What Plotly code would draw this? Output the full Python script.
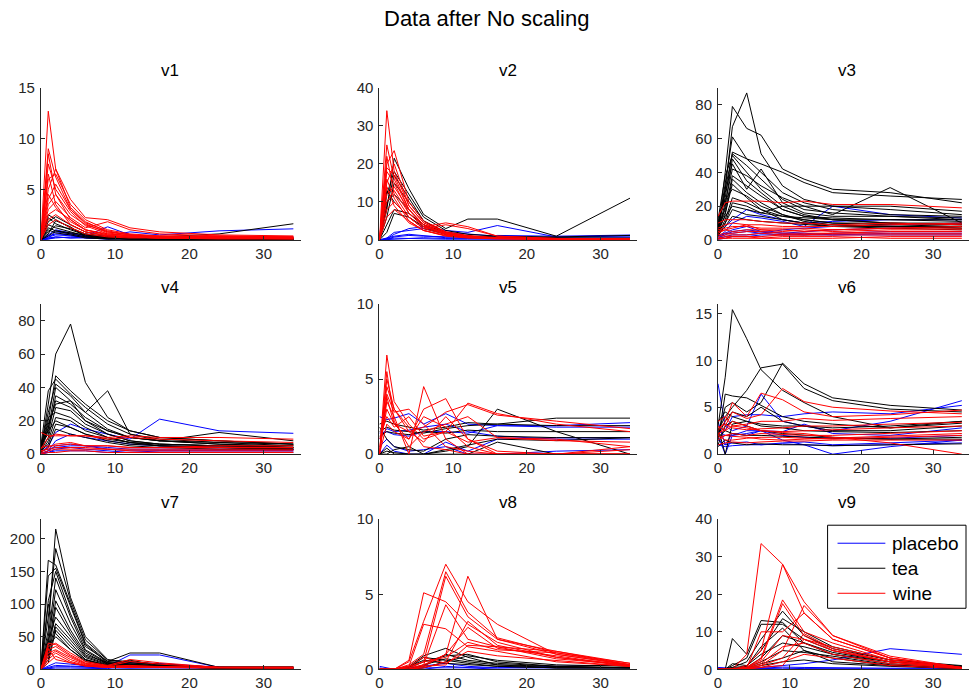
import plotly.graph_objects as go

# Sampling times (hours) shared by every subject
TIME = [0, 1, 2, 4, 6, 9, 12, 16, 24, 34]

# ---- v1 ----
V1_PLACEBO = [
    [0, 0.3, 0.5, 0.4, 0.3, 0.2, 0.1, 0.1, 0.1, 0.1],
    [0, 0.2, 0.8, 0.6, 0.4, 1.3, 0.5, 0.3, 0.2, 0.2],
    [0, 0.1, 0.3, 0.2, 0.3, 0.4, 0.8, 0.5, 0.9, 1.1],
    [0.1, 0.4, 0.6, 0.5, 0.2, 0.1, 0.1, 0.1, 0.2, 0.1],
    [0, 0.5, 1.0, 0.7, 0.3, 0.2, 0.1, 0.1, 0.1, 0.1],
    [0, 0.2, 0.3, 0.2, 0.2, 0.1, 0.2, 0.3, 0.2, 0.3],
    [0, 0.1, 0.2, 0.3, 0.4, 0.3, 0.2, 0.1, 0.1, 0.1],
]
V1_TEA = [
    [0, 2.5, 2.0, 1.2, 0.6, 0.3, 0.2, 0.3, 0.6, 1.6],
    [0, 1.8, 2.3, 1.5, 0.8, 0.4, 0.2, 0.1, 0.1, 0.1],
    [0, 1.5, 1.2, 0.8, 0.4, 0.2, 0.1, 0.1, 0.1, 0.1],
    [0, 2.2, 1.6, 1.0, 0.5, 0.2, 0.1, 0.1, 0.1, 0.1],
    [0, 0.8, 1.4, 1.1, 0.6, 0.3, 0.2, 0.1, 0.1, 0.1],
    [0, 1.2, 0.9, 0.6, 0.3, 0.1, 0.1, 0.1, 0.1, 0.1],
    [0, 0.6, 1.9, 1.3, 0.3, 0.2, 0.1, 0.1, 0.1, 0.1],
    [0, 1.0, 0.7, 0.5, 0.2, 0.1, 0.1, 0.1, 0.1, 0.1],
    [0, 0.4, 0.9, 0.7, 0.5, 0.3, 0.2, 0.1, 0.1, 0.1],
]
V1_WINE = [
    [0, 12.7, 7.0, 3.2, 1.8, 0.8, 0.5, 0.3, 0.3, 0.2],
    [0, 9.0, 6.2, 3.0, 1.6, 0.7, 0.4, 0.3, 0.3, 0.2],
    [0, 7.5, 5.0, 2.8, 1.4, 0.6, 0.4, 0.3, 0.3, 0.2],
    [0, 5.0, 7.0, 4.0, 2.2, 2.0, 1.2, 0.8, 0.5, 0.4],
    [0, 6.0, 6.5, 3.5, 2.0, 1.0, 0.6, 0.4, 0.4, 0.3],
    [0, 4.0, 5.5, 3.0, 1.7, 0.9, 0.5, 0.3, 0.3, 0.3],
    [0, 3.5, 4.5, 2.5, 1.5, 0.8, 0.5, 0.4, 0.3, 0.2],
    [0, 8.5, 4.5, 2.0, 1.0, 0.5, 0.3, 0.2, 0.2, 0.2],
    [0, 3.0, 3.8, 2.2, 1.2, 1.8, 1.0, 0.6, 0.4, 0.3],
    [0, 2.5, 3.0, 2.0, 1.0, 0.6, 0.4, 0.3, 0.2, 0.2],
    [0, 6.5, 3.5, 1.5, 0.8, 0.4, 0.3, 0.2, 0.2, 0.2],
    [0, 2.0, 2.5, 1.5, 0.8, 0.4, 0.3, 0.2, 0.2, 0.1],
    [0, 4.5, 3.2, 1.8, 1.0, 0.5, 0.3, 0.2, 0.2, 0.2],
    [0, 1.5, 2.0, 1.2, 0.6, 0.3, 0.2, 0.2, 0.1, 0.1],
]

# ---- v2 ----
V2_PLACEBO = [
    [0, 0.5, 2.0, 2.5, 3.0, 2.0, 1.5, 1.0, 0.5, 0.5],
    [0, 0.3, 1.5, 3.0, 3.5, 2.5, 2.0, 3.8, 0.8, 1.0],
    [0, 0.2, 0.8, 1.2, 1.0, 0.8, 0.6, 0.5, 0.4, 0.5],
    [0, 0.1, 0.3, 0.5, 0.6, 0.4, 0.5, 1.2, 1.0, 1.3],
    [0, 0.2, 0.5, 0.4, 0.3, 0.2, 0.2, 0.2, 0.2, 0.2],
    [0, 0.4, 1.0, 1.5, 1.2, 0.6, 0.4, 0.3, 0.3, 0.3],
]
V2_TEA = [
    [0, 8.0, 21.5, 13.5, 6.7, 3.0, 5.5, 5.5, 1.0, 11.0],
    [0, 12.0, 18.0, 12.0, 6.0, 2.5, 1.5, 1.0, 0.8, 1.2],
    [0, 6.0, 15.0, 10.0, 5.0, 2.0, 1.0, 0.8, 0.5, 0.5],
    [0, 13.0, 10.0, 6.0, 3.5, 1.5, 1.0, 0.5, 0.5, 0.4],
    [0, 4.0, 8.0, 7.0, 4.0, 2.0, 1.0, 0.6, 0.4, 0.3],
    [0, 9.0, 17.0, 11.0, 5.0, 2.0, 1.0, 0.5, 0.3, 0.3],
    [0, 2.0, 7.0, 6.0, 3.0, 1.5, 0.8, 0.5, 0.3, 0.3],
    [0, 10.0, 12.0, 8.0, 4.0, 1.5, 0.8, 0.5, 0.3, 0.3],
]
V2_WINE = [
    [0, 34.0, 18.0, 9.0, 4.5, 2.0, 1.0, 0.5, 0.3, 0.2],
    [0, 25.0, 16.0, 8.0, 4.0, 1.8, 1.0, 0.5, 0.3, 0.2],
    [0, 20.0, 23.5, 10.0, 5.0, 2.2, 1.2, 0.6, 0.3, 0.2],
    [0, 18.0, 15.0, 7.0, 3.5, 4.5, 3.5, 1.0, 0.4, 0.3],
    [0, 15.0, 20.0, 9.0, 4.5, 2.0, 1.0, 0.5, 0.3, 0.2],
    [0, 12.0, 14.0, 8.0, 4.0, 1.5, 0.8, 0.5, 0.3, 0.2],
    [0, 22.0, 12.0, 6.0, 3.0, 1.5, 0.8, 0.4, 0.2, 0.2],
    [0, 10.0, 13.0, 7.0, 3.5, 1.8, 1.0, 0.5, 0.3, 0.2],
    [0, 16.0, 11.0, 5.0, 2.5, 1.2, 0.6, 0.3, 0.2, 0.2],
    [0, 8.0, 10.0, 6.0, 3.0, 4.0, 3.0, 1.0, 0.4, 0.3],
    [0, 14.0, 9.0, 4.5, 2.5, 1.0, 0.5, 0.3, 0.2, 0.2],
    [0, 6.0, 8.0, 5.0, 2.5, 1.2, 0.7, 0.4, 0.2, 0.2],
    [0, 19.0, 17.0, 8.0, 3.5, 1.5, 0.8, 0.4, 0.3, 0.2],
]

# ---- v3 ----
V3_PLACEBO = [
    [3, 8, 12, 18, 15, 12, 10, 11, 12, 12],
    [2, 5, 10, 14, 13, 11, 8, 20, 15, 13],
    [1, 3, 5, 6, 5, 4, 5, 6, 7, 8],
    [0.5, 2, 3, 3, 4, 3, 3, 3, 4, 4],
    [1, 4, 6, 8, 5, 4, 3, 4, 5, 5],
    [0.5, 1, 2, 2, 3, 3, 4, 3, 3, 3],
    [2, 4, 4, 5, 4, 6, 7, 8, 9, 10],
]
V3_TEA = [
    [5, 40, 79, 66, 62, 42, 36, 30, 28, 22],
    [8, 30, 67, 87, 51, 32, 24, 20, 18, 15],
    [6, 35, 61, 48, 45, 40, 34, 28, 26, 24],
    [10, 25, 52, 48, 40, 28, 22, 18, 15, 14],
    [4, 30, 51, 44, 36, 24, 18, 16, 14, 12],
    [12, 38, 50, 40, 30, 20, 15, 12, 10, 10],
    [3, 20, 48, 35, 28, 18, 14, 13, 12, 12],
    [7, 28, 45, 30, 42, 22, 16, 14, 14, 13],
    [5, 22, 42, 38, 32, 25, 20, 15, 31, 10],
    [9, 18, 38, 32, 26, 18, 14, 12, 10, 9],
    [4, 15, 36, 28, 22, 15, 12, 10, 9, 8],
    [11, 24, 30, 26, 20, 15, 11, 9, 8, 8],
    [3, 12, 25, 22, 18, 14, 12, 10, 10, 9],
    [6, 14, 20, 18, 16, 14, 13, 12, 12, 11],
    [2, 10, 18, 15, 14, 12, 10, 9, 8, 7],
    [8, 16, 33, 25, 18, 12, 10, 8, 7, 6],
    [5, 10, 22, 20, 16, 20, 20, 20, 20, 17],
    [3, 8, 14, 12, 11, 10, 9, 8, 8, 7],
]
V3_WINE = [
    [14, 22, 23, 23, 23, 22, 23, 21, 21, 19],
    [10, 12, 12, 12, 11, 10, 10, 9, 10, 9],
    [6, 7, 8, 8, 7, 7, 7, 6, 7, 7],
    [4, 6, 7, 9, 6, 5, 6, 5, 6, 6],
    [3, 4, 4, 5, 5, 4, 4, 4, 5, 5],
    [2, 3, 3, 3, 4, 3, 3, 4, 4, 4],
    [1, 2, 2, 2, 2, 3, 3, 3, 3, 3],
    [5, 6, 5, 6, 6, 6, 5, 6, 7, 8],
    [0.5, 1, 1, 1, 1, 1, 1, 1, 2, 2],
    [7, 9, 10, 9, 9, 8, 8, 8, 9, 10],
    [1, 1, 2, 2, 1, 2, 2, 2, 1, 1],
]

# ---- v4 ----
V4_PLACEBO = [
    [1, 5, 13, 18, 15, 12, 9, 21, 14, 12.5],
    [0.5, 2, 5, 6, 5, 3, 2, 2, 2, 2],
    [0, 1, 3, 4, 3, 2, 1, 1, 1, 1],
    [2, 3, 4, 5, 5, 4, 3, 3, 3, 3],
    [0, 2, 8, 12, 10, 8, 6, 5, 4, 3],
    [1, 1, 2, 2, 2, 1, 1, 2, 2, 2],
]
V4_TEA = [
    [3, 30, 60, 78, 43, 22, 14, 10, 8, 6],
    [5, 38, 45, 36, 28, 18, 12, 9, 7, 5],
    [2, 20, 47, 38, 30, 20, 14, 10, 8, 6],
    [4, 25, 42, 35, 25, 15, 10, 8, 6, 5],
    [1, 15, 40, 32, 25, 38, 12, 8, 6, 4],
    [6, 12, 35, 30, 22, 14, 10, 8, 7, 6],
    [3, 18, 30, 32, 20, 12, 8, 6, 5, 4],
    [2, 10, 28, 26, 18, 12, 8, 6, 5, 4],
    [4, 22, 25, 22, 16, 10, 7, 5, 4, 3],
    [1, 8, 22, 20, 14, 10, 7, 5, 4, 3],
    [5, 14, 20, 16, 12, 8, 6, 5, 4, 3],
    [2, 6, 18, 16, 12, 9, 7, 6, 5, 4],
    [3, 16, 32, 28, 20, 14, 10, 8, 13, 8],
    [1, 4, 15, 12, 10, 7, 5, 4, 3, 3],
]
V4_WINE = [
    [13, 11, 11, 11, 11, 10, 11, 10, 10, 9],
    [3, 10, 12, 11, 11, 9, 10, 9, 8, 7],
    [1, 4, 6, 7, 5, 5, 4, 4, 4, 4],
    [0.5, 2, 3, 3, 3, 3, 2, 2, 2, 2],
    [2, 3, 4, 4, 4, 3, 3, 3, 3, 3],
    [0, 1, 1, 2, 2, 1, 1, 1, 1, 1],
    [4, 5, 5, 6, 5, 5, 4, 4, 5, 5],
]

# ---- v5 ----
V5_PLACEBO = [
    [2.5, 2.3, 2.4, 2.7, 2.0, 2.7, 2.0, 1.9, 1.9, 2.1],
    [1.4, 1.5, 1.3, 1.2, 1.5, 1.5, 1.4, 1.9, 1.8, 1.8],
    [0, 0.6, 0.2, 0, 0, 0.8, 0.2, 1.0, 1.1, 1.1],
    [0.5, 1.0, 0.5, 0.2, 0.3, 0.5, 0, 0, 0.2, 0.3],
    [1.0, 1.7, 1.5, 1.6, 1.8, 2.0, 1.5, 1.2, 1.0, 1.0],
]
V5_TEA = [
    [0, 0.4, 0, 0, 0, 0.2, 0.5, 3.0, 1.5, 0],
    [2.0, 2.2, 2.0, 1.8, 1.6, 1.8, 2.1, 2.0, 2.4, 2.4],
    [1.5, 1.8, 1.6, 1.5, 1.4, 1.7, 1.9, 2.0, 1.9, 1.9],
    [0, 0.2, 0.1, 0, 0, 0.3, 0.6, 1.0, 0.9, 1.1],
    [1.2, 1.5, 1.4, 1.3, 1.5, 1.4, 1.6, 1.5, 1.5, 1.5],
    [0, 0, 0.3, 0.5, 0, 0, 0, 0.8, 0, 0],
    [1.8, 1.0, 0.5, 0.3, 0.2, 1.0, 1.3, 1.2, 1.1, 1.1],
]
V5_WINE = [
    [0, 6.6, 3.5, 2.0, 1.0, 1.5, 3.4, 2.7, 2.0, 1.5],
    [0, 5.0, 3.0, 1.5, 1.8, 2.8, 3.3, 2.6, 2.2, 1.7],
    [0, 4.0, 2.8, 3.0, 2.0, 0.5, 0.2, 0, 0, 0],
    [0, 3.5, 2.5, 0, 4.5, 1.0, 0, 0, 0, 0],
    [0.5, 3.0, 2.0, 1.0, 3.0, 3.7, 1.0, 0, 0, 0],
    [0, 5.5, 2.2, 0.5, 1.5, 2.0, 2.5, 1.1, 1.0, 0.5],
    [1.0, 2.5, 1.8, 2.5, 1.2, 1.5, 0.8, 1.1, 0.9, 0.8],
    [0, 3.8, 2.0, 1.5, 0.8, 2.5, 1.0, 0.2, 0, 0.3],
    [0, 2.0, 1.5, 1.0, 2.5, 1.8, 0.5, 0, 0, 0.5],
    [0, 4.5, 3.0, 1.8, 0.5, 0.3, 0, 0, 0, 0],
]

# ---- v6 ----
V6_PLACEBO = [
    [7.5, 3.0, 2.5, 3.0, 6.4, 3.5, 3.0, 2.5, 3.5, 5.7],
    [2.0, 0, 2.0, 2.5, 2.5, 1.5, 1.0, 0, 0.8, 1.5],
    [3.0, 2.5, 4.0, 4.2, 4.2, 4.0, 4.3, 4.5, 4.3, 5.2],
    [1.5, 1.0, 1.2, 1.3, 1.0, 1.2, 1.3, 1.0, 1.2, 1.5],
    [2.5, 2.0, 2.0, 2.2, 2.5, 2.4, 3.2, 2.2, 2.0, 2.8],
    [1.0, 0.8, 0.9, 1.0, 1.0, 1.1, 1.0, 0.9, 1.0, 1.2],
    [3.5, 1.0, 2.2, 2.0, 2.5, 2.0, 1.8, 1.7, 1.7, 2.0],
]
V6_TEA = [
    [3.0, 8.2, 15.4, 12.3, 9.0, 6.8, 5.5, 4.0, 2.8, 3.5],
    [2.0, 5.0, 5.5, 4.5, 5.5, 9.7, 7.5, 6.0, 5.2, 4.7],
    [2.5, 4.0, 5.0, 6.8, 9.2, 9.6, 7.0, 5.7, 4.8, 4.5],
    [1.5, 6.4, 6.2, 6.0, 5.2, 4.0, 3.5, 3.2, 2.8, 3.3],
    [2.0, 3.5, 4.5, 4.0, 5.0, 3.5, 3.0, 2.5, 2.5, 3.0],
    [1.0, 3.0, 3.5, 3.0, 2.5, 2.2, 2.0, 1.8, 1.6, 1.8],
    [2.8, 0, 3.2, 3.5, 3.0, 2.8, 2.5, 2.4, 2.3, 2.5],
    [1.8, 2.5, 2.2, 2.0, 2.0, 1.9, 1.8, 1.7, 1.6, 1.6],
    [0.8, 1.5, 1.2, 1.0, 1.1, 1.0, 1.0, 0.9, 1.0, 1.1],
    [3.5, 4.5, 4.0, 3.5, 3.2, 3.0, 3.0, 2.8, 3.0, 3.5],
]
V6_WINE = [
    [2.5, 3.5, 5.5, 4.0, 6.5, 5.8, 4.5, 4.0, 4.2, 4.7],
    [2.0, 3.0, 4.5, 3.8, 4.2, 7.0, 5.6, 5.0, 4.6, 4.3],
    [3.0, 2.5, 3.0, 3.2, 3.5, 3.5, 3.8, 3.6, 3.8, 4.0],
    [1.5, 2.0, 2.2, 2.0, 2.2, 2.1, 2.0, 2.0, 2.2, 2.5],
    [2.0, 1.5, 1.5, 1.7, 1.8, 1.8, 1.7, 1.6, 1.8, 2.0],
    [3.5, 4.0, 3.0, 2.8, 2.5, 2.3, 2.2, 1.8, 1.2, 0],
    [1.0, 1.2, 1.3, 1.2, 1.3, 1.4, 1.4, 1.5, 1.5, 1.5],
    [2.8, 3.2, 2.8, 2.6, 2.7, 2.8, 3.0, 3.0, 3.2, 3.4],
    [1.8, 2.0, 1.9, 1.8, 1.6, 1.5, 1.6, 1.7, 1.9, 2.2],
    [2.2, 2.6, 3.5, 3.0, 2.5, 2.4, 2.5, 2.6, 2.8, 3.0],
]

# ---- v7 ----
V7_PLACEBO = [
    [0, 5, 10, 8, 6, 5, 22, 22, 3, 2],
    [0, 2, 4, 4, 3, 2, 2, 3, 2, 2],
    [0, 1, 2, 2, 2, 1, 10, 9, 3, 2],
    [0, 3, 6, 5, 4, 3, 2, 2, 2, 2],
]
V7_TEA = [
    [0, 60, 215, 110, 50, 15, 10, 8, 3, 3],
    [0, 80, 185, 105, 45, 14, 12, 8, 3, 3],
    [0, 167, 160, 100, 40, 12, 10, 6, 3, 3],
    [0, 143, 155, 95, 38, 10, 8, 5, 3, 3],
    [0, 105, 150, 85, 35, 12, 25, 25, 3, 3],
    [0, 50, 140, 80, 30, 10, 8, 5, 3, 3],
    [0, 40, 122, 70, 28, 9, 7, 5, 3, 3],
    [0, 30, 105, 60, 25, 8, 14, 6, 3, 3],
    [0, 20, 95, 55, 22, 10, 8, 5, 3, 3],
    [0, 45, 80, 50, 20, 8, 6, 4, 3, 3],
    [0, 25, 70, 45, 18, 7, 6, 4, 2, 2],
    [0, 15, 65, 40, 15, 6, 5, 4, 2, 2],
    [0, 10, 60, 35, 15, 6, 5, 4, 2, 2],
    [0, 100, 55, 30, 14, 5, 4, 3, 2, 2],
    [0, 35, 50, 30, 12, 6, 5, 4, 2, 2],
]
V7_WINE = [
    [0, 35, 40, 25, 12, 6, 15, 10, 3, 3],
    [0, 40, 38, 22, 10, 5, 12, 8, 3, 3],
    [0, 30, 35, 20, 9, 5, 6, 4, 3, 3],
    [0, 25, 30, 18, 8, 4, 5, 4, 3, 3],
    [0, 20, 28, 15, 7, 4, 4, 3, 3, 3],
    [0, 15, 25, 12, 6, 3, 3, 3, 2, 2],
    [0, 10, 20, 10, 5, 3, 3, 3, 2, 2],
    [0, 32, 15, 10, 5, 3, 3, 2, 2, 2],
]

# ---- v8 ----
V8_PLACEBO = [
    [0.2, 0.1, 0, 0.1, 0.2, 0.4, 0.2, 0.1, 0.1, 0.1],
    [0.1, 0, 0, 0, 0.1, 0.1, 0.1, 0.1, 0.2, 0.3],
    [0, 0, 0, 0, 0, 0.2, 0.1, 0, 0, 0],
]
V8_TEA = [
    [0, 0, 0, 0.2, 0.9, 1.4, 0.8, 0.3, 0.1, 0.1],
    [0, 0, 0, 0.1, 0.5, 0.9, 1.0, 0.5, 0.2, 0.1],
    [0, 0, 0, 0, 0.3, 0.7, 0.5, 0.3, 0.2, 0.3],
    [0, 0, 0, 0.1, 0.8, 0.6, 0.4, 0.2, 0.1, 0.1],
    [0, 0, 0, 0, 0.2, 1.0, 0.6, 0.4, 0.2, 0.1],
    [0, 0, 0, 0, 0.1, 0.5, 0.9, 0.6, 0.3, 0.2],
    [0, 0, 0, 0.2, 0.6, 0.4, 0.3, 0.2, 0.1, 0.1],
]
V8_WINE = [
    [0, 0, 0, 0.5, 3.2, 7.0, 4.5, 3.0, 1.0, 0.3],
    [0, 0, 0, 0.3, 1.0, 6.5, 3.8, 2.1, 1.1, 0.4],
    [0, 0, 0, 0.2, 0.5, 6.2, 3.5, 2.0, 1.2, 0.3],
    [0, 0, 0, 0.6, 5.1, 4.5, 3.0, 1.8, 0.8, 0.2],
    [0, 0, 0, 0.1, 0.3, 4.3, 2.0, 1.5, 0.7, 0.3],
    [0, 0, 0, 0.2, 3.0, 2.7, 1.5, 1.2, 0.5, 0.2],
    [0, 0, 0, 0, 0.2, 1.0, 6.2, 2.0, 1.0, 0.3],
    [0, 0, 0, 0, 0.1, 0.5, 3.2, 1.6, 0.8, 0.3],
    [0, 0, 0, 0, 0.3, 1.0, 2.8, 1.4, 0.9, 0.2],
    [0, 0, 0, 0.1, 0.5, 0.8, 1.8, 1.3, 1.1, 0.3],
    [0, 0, 0, 0.2, 0.8, 0.4, 1.2, 0.9, 0.6, 0.2],
    [0, 0, 0, 0, 0.2, 0.3, 1.6, 1.5, 1.2, 0.4],
]

# ---- v9 ----
V9_PLACEBO = [
    [0.5, 0.5, 0.3, 0.2, 0.5, 1.0, 1.5, 2.5, 5.5, 4.0],
    [0, 0, 0, 0.1, 0.3, 0.6, 0.5, 0.4, 0.3, 0.3],
    [0.3, 0.2, 0.1, 0.1, 0.2, 0.3, 0.2, 0.2, 0.1, 0.1],
]
V9_TEA = [
    [0, 0, 8.2, 4.0, 13.0, 12.5, 7.0, 4.0, 2.0, 0.8],
    [0, 0, 1.0, 3.0, 12.0, 12.0, 8.0, 5.0, 2.0, 0.5],
    [0, 0, 0.5, 2.0, 8.0, 15.5, 9.0, 5.5, 2.5, 1.0],
    [0, 0, 1.5, 1.0, 5.0, 13.5, 10.0, 6.0, 2.5, 0.8],
    [0, 0, 0, 0.5, 3.0, 9.0, 7.0, 4.5, 2.0, 0.5],
    [0, 0, 0, 1.0, 4.0, 7.0, 6.0, 4.0, 1.5, 0.5],
    [0, 0, 0, 0.5, 2.0, 5.0, 4.5, 3.5, 1.2, 0.3],
    [0, 0, 0, 0.3, 1.5, 3.0, 5.0, 3.0, 1.0, 0.3],
    [0, 0, 0.5, 0.8, 6.0, 11.0, 5.0, 2.0, 1.0, 0.2],
    [0, 0, 0, 0.2, 1.0, 2.0, 2.5, 1.5, 0.8, 0.2],
]
V9_WINE = [
    [0, 0, 0, 4.0, 33.5, 28.0, 18.0, 9.0, 3.0, 0.5],
    [0, 0, 0, 1.0, 5.0, 28.0, 15.0, 8.0, 3.0, 0.5],
    [0, 0, 0, 0.5, 3.0, 18.5, 10.0, 7.0, 2.5, 0.3],
    [0, 0, 0, 0.5, 2.5, 17.5, 9.0, 5.0, 2.0, 0.3],
    [0, 0, 0, 0.2, 1.0, 5.0, 17.0, 9.0, 3.5, 0.5],
    [0, 0, 0, 0.3, 10.0, 10.0, 15.0, 8.0, 3.0, 0.4],
    [0, 0, 0, 0.5, 2.0, 9.0, 8.0, 6.0, 2.5, 0.3],
    [0, 0, 0, 0.2, 1.0, 3.0, 9.5, 5.5, 2.0, 0.4],
    [0, 0, 0, 0.1, 0.5, 1.0, 8.0, 5.0, 2.0, 0.3],
    [0, 0, 0, 0.3, 1.5, 6.0, 7.0, 4.0, 1.5, 0.3],
    [0, 0, 0, 0.1, 0.5, 2.0, 4.0, 3.0, 1.0, 0.2],
]

PANEL_NAMES = ["v1", "v2", "v3", "v4", "v5", "v6", "v7", "v8", "v9"]
PANEL_DATA = [
    (V1_PLACEBO, V1_TEA, V1_WINE), (V2_PLACEBO, V2_TEA, V2_WINE),
    (V3_PLACEBO, V3_TEA, V3_WINE), (V4_PLACEBO, V4_TEA, V4_WINE),
    (V5_PLACEBO, V5_TEA, V5_WINE), (V6_PLACEBO, V6_TEA, V6_WINE),
    (V7_PLACEBO, V7_TEA, V7_WINE), (V8_PLACEBO, V8_TEA, V8_WINE),
    (V9_PLACEBO, V9_TEA, V9_WINE),
]
Y_MAX = [15, 40, 90, 90, 10, 16, 230, 10, 40]
Y_TICKS = [
    [0, 5, 10, 15], [0, 10, 20, 30, 40], [0, 20, 40, 60, 80],
    [0, 20, 40, 60, 80], [0, 5, 10], [0, 5, 10, 15],
    [0, 50, 100, 150, 200], [0, 5, 10], [0, 10, 20, 30, 40],
]
X_TICKS = [0, 10, 20, 30]
GROUPS = ["placebo", "tea", "wine"]
COLORS = {"placebo": "#0000ff", "tea": "#000000", "wine": "#ff0000"}

# figure canvas and the page placement of its contents
W, H = 969, 702
Y_OFF, Y_SCALE = 8.2, 0.975
COL_PX = [(37, 298), (377, 636), (717, 969)]
X_MAX = [35, 35, 35]
ROW_PX = [(87, 239), (303, 453), (518, 668)]
FONT = "Liberation Sans, Arial, sans-serif"
AXIS_COLOR = "#262626"

# legend box geometry, placed inside the v9 panel
LEG_BOX = (827, 524, 966, 607)
LEG_ROWS = [542, 567, 592]
LEG_LINE_X = (837, 885)
LEG_TEXT_X = 890


def join_lines(series):
    """Concatenate subject curves into one trace, separated by gaps."""
    xs, ys = [], []
    for s in series:
        xs += TIME + [None]
        ys += list(s) + [None]
    return xs, ys


def px(x):
    return min(1.0, max(0.0, x / W))


def py(y):
    return min(1.0, max(0.0, 1 - ((y - Y_OFF) / Y_SCALE) / H))


fig = go.Figure()
layout = dict(
    width=W, height=H,
    margin=dict(l=0, r=0, t=0, b=0),
    paper_bgcolor="white", plot_bgcolor="white",
    font=dict(family=FONT, size=15, color=AXIS_COLOR),
    showlegend=False,
)
annotations = [dict(
    text="Data after No scaling", x=px(484), y=py(18), xref="paper", yref="paper",
    xanchor="center", yanchor="middle", showarrow=False,
    font=dict(family=FONT, size=22, color="#000000"),
)]
shapes = []

for i, (name, data) in enumerate(zip(PANEL_NAMES, PANEL_DATA)):
    r, c = divmod(i, 3)
    ax = "" if i == 0 else str(i + 1)
    x0, x1 = COL_PX[c]
    y0, y1 = ROW_PX[r]
    xdom = [px(x0), px(x1)]
    ydom = [py(y1), py(y0)]
    for g, series in zip(GROUPS, data):
        xs, ys = join_lines(series)
        fig.add_trace(go.Scatter(
            x=xs, y=ys, mode="lines", name=g,
            connectgaps=False, hoverinfo="skip",
            line=dict(color=COLORS[g], width=1),
            xaxis="x" + ax, yaxis="y" + ax,
        ))
    axis_common = dict(
        showgrid=False, zeroline=False, showline=True, linecolor=AXIS_COLOR,
        linewidth=1, ticks="inside", ticklen=4, tickcolor=AXIS_COLOR,
        mirror=False, tickfont=dict(family=FONT, size=15, color=AXIS_COLOR),
    )
    layout["xaxis" + ax] = dict(
        domain=xdom, range=[0, X_MAX[c]], tickvals=X_TICKS,
        anchor="y" + ax, **axis_common,
    )
    layout["yaxis" + ax] = dict(
        domain=ydom, range=[0, Y_MAX[i]], tickvals=Y_TICKS[i],
        anchor="x" + ax, ticklabelstandoff=2, **axis_common,
    )
    annotations.append(dict(
        text=name, x=px((x0 + x0 + 259) / 2), y=py(y0 - 17),
        xref="paper", yref="paper", xanchor="center", yanchor="middle",
        showarrow=False, font=dict(family=FONT, size=17, color="#000000"),
    ))

# legend: white framed box with a line sample and label per group
bx0, by0, bx1, by1 = LEG_BOX
shapes.append(dict(
    type="rect", xref="paper", yref="paper", layer="above",
    x0=px(bx0), x1=px(bx1), y0=py(by1), y1=py(by0),
    fillcolor="white", line=dict(color="#000000", width=1),
))
for g, yrow in zip(GROUPS, LEG_ROWS):
    shapes.append(dict(
        type="line", xref="paper", yref="paper", layer="above",
        x0=px(LEG_LINE_X[0]), x1=px(LEG_LINE_X[1]), y0=py(yrow), y1=py(yrow),
        line=dict(color=COLORS[g], width=1),
    ))
    annotations.append(dict(
        text=g, x=px(LEG_TEXT_X), y=py(yrow), xref="paper", yref="paper",
        xanchor="left", yanchor="middle", showarrow=False,
        font=dict(family=FONT, size=19, color="#000000"),
    ))

layout["annotations"] = annotations
layout["shapes"] = shapes
fig.update_layout(**layout)
fig.write_html("out.html")
